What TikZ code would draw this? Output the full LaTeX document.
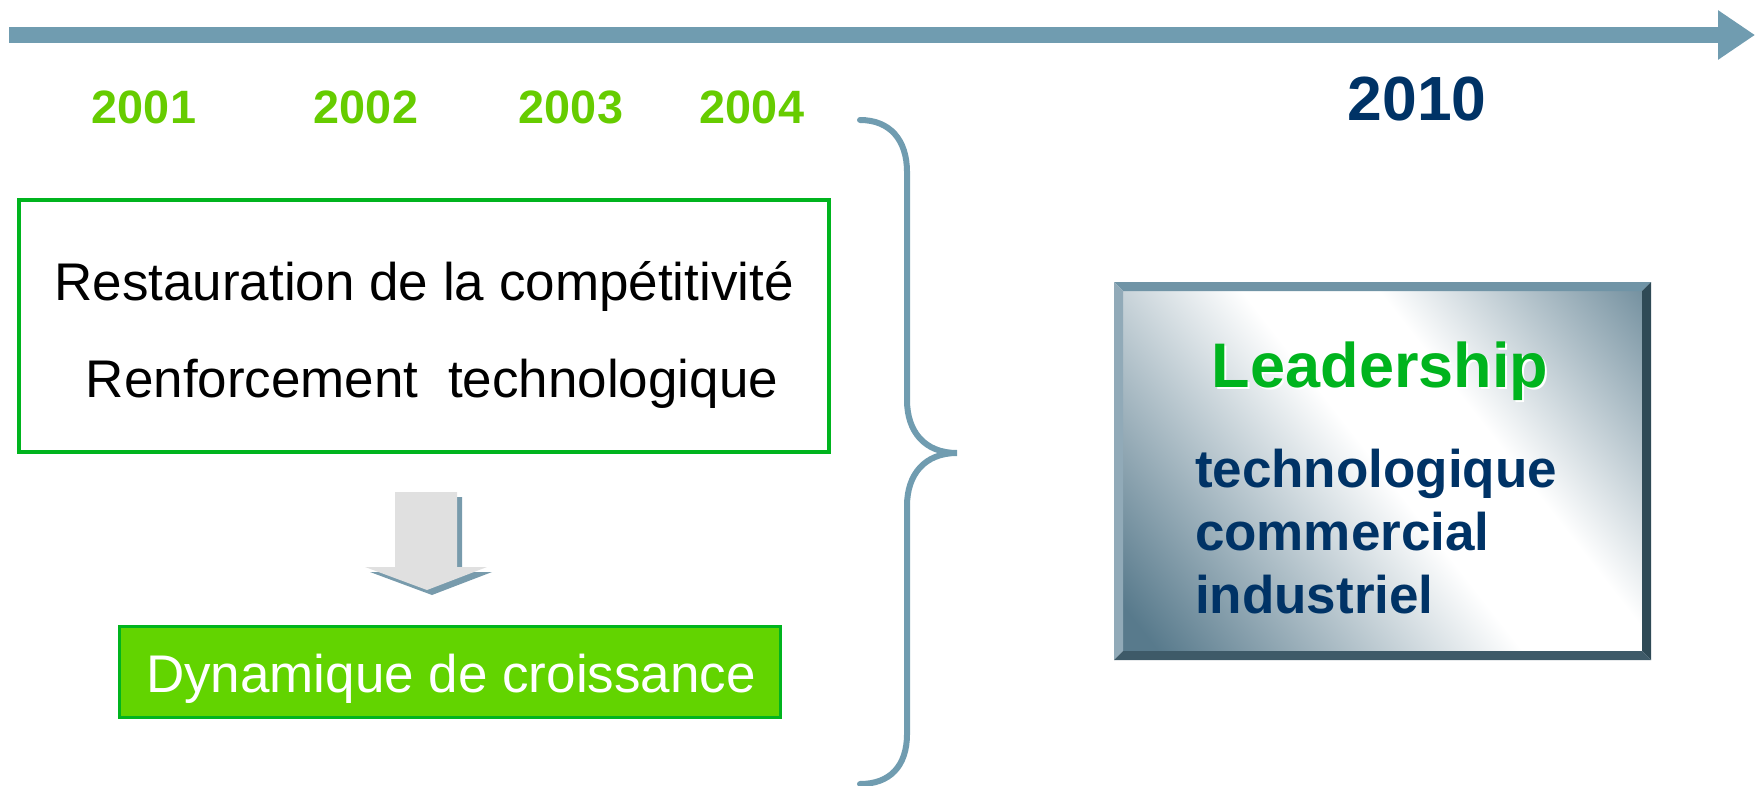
\documentclass[tikz,border=0pt]{standalone}
\usepackage{fontspec}
\setmainfont{Liberation Sans}
\usetikzlibrary{arrows.meta,calc}

\definecolor{steel}{RGB}{112,156,176}
\definecolor{yeargreen}{RGB}{102,204,0}
\definecolor{boxgreen}{RGB}{0,180,30}
\definecolor{fillgreen}{RGB}{98,212,0}
\definecolor{navy}{RGB}{0,51,102}
\definecolor{arrowgray}{RGB}{224,224,224}
\definecolor{shadowsteel}{RGB}{120,155,172}
\definecolor{leaddark}{RGB}{88,122,140}
\definecolor{bevtop}{RGB}{112,148,166}
\definecolor{bevleft}{RGB}{145,170,184}
\definecolor{bevright}{RGB}{47,74,86}
\definecolor{bevbottom}{RGB}{62,90,104}

\pgfdeclarehorizontalshading{steelglow}{100bp}{color(0bp)=(leaddark); color(18bp)=(leaddark); color(50bp)=(white); color(62bp)=(white); color(90bp)=(leaddark); color(100bp)=(leaddark)}

\begin{document}
\begin{tikzpicture}[x=0.5pt,y=-0.5pt,every node/.style={inner sep=0pt,outer sep=0pt}]

\useasboundingbox (0,0) rectangle (1755,786);

\tikzstyle{timeline}=[steel,line width=8pt,-{Triangle[length=18.5pt,width=23.5pt]}]
\tikzstyle{year}=[yeargreen,font=\bfseries\fontsize{23.4}{28}\selectfont,anchor=base]
\tikzstyle{plaintext}=[font=\fontsize{26.5}{31}\selectfont,anchor=base]
\tikzstyle{leadtext}=[navy,font=\bfseries\fontsize{26.5}{31}\selectfont,anchor=base west]

% time axis
\coordinate (tlstart) at (9,35);
\coordinate (tlend) at (1755,35);
\draw[timeline] (tlstart) -- (tlend);

\foreach \yr/\xx in {2001/144, 2002/366, 2003/571, 2004/752}
    \node[year] (y\yr) at (\xx,124) {\yr};
\node[year,navy,font=\bfseries\fontsize{31.2}{36}\selectfont] (y2010) at (1417,121) {2010};

% left part
\node (goals) at (424,326) [draw=boxgreen,line width=2pt,minimum width=405pt,minimum height=126pt] {};
\node[plaintext] (compet) at (424,300) {Restauration de la compétitivité};
\node[plaintext] (renfort) at (432,397) {Renforcement\ \ technologique};

% arrow with its shadow
\foreach \dd/\col in {5/shadowsteel, 0/arrowgray}
    \fill[\col,shift={(\dd,\dd)}] (395,492) -- (457,492) -- (457,567) -- (487,567) -- (427,590) -- (365,567) -- (395,567) -- cycle;

\node (dyn) at (449.5,671.5) [draw=boxgreen,fill=fillgreen,line width=1.5pt,minimum width=330.5pt,minimum height=45.5pt] {};
\node[plaintext,white] (dyntext) at (451,692) {Dynamique de croissance};

% brace
\draw[steel,line width=3pt,line cap=round] (860,120) .. controls (890,120) and (907,140) .. (907,172) -- (907,400)
    .. controls (907,432) and (925,453) .. (957,453)
    .. controls (925,453) and (907,474) .. (907,506) -- (907,734)
    .. controls (907,766) and (890,784) .. (860,784);

% right part
\node (lead) at (1382.5,471) [shade,shading=steelglow,shading angle=38,minimum width=259.5pt,minimum height=180pt] {};
\fill[bevtop] (lead.north west) -- (lead.north east) -- ++(9,-9) -- ($(lead.north west)+(-9,-9)$) -- cycle;
\fill[bevleft] (lead.north west) -- ($(lead.north west)+(-9,-9)$) -- ($(lead.south west)+(-9,9)$) -- (lead.south west) -- cycle;
\fill[bevright] (lead.north east) -- ++(9,-9) -- ($(lead.south east)+(9,9)$) -- (lead.south east) -- cycle;
\fill[bevbottom] (lead.south west) -- (lead.south east) -- ($(lead.south east)+(9,9)$) -- ($(lead.south west)+(-9,9)$) -- cycle;

\node[white,font=\bfseries\fontsize{31.5}{36}\selectfont,anchor=base] (leadshadow) at (1382,389) {Leadership};
\node[boxgreen,font=\bfseries\fontsize{31.5}{36}\selectfont,anchor=base] (leadtitle) at (1380,387) {Leadership};
\node[leadtext] (ltech) at (1195,487) {technologique};
\node[leadtext] (lcomm) at (1195,550) {commercial};
\node[leadtext] (lind) at (1195,613) {industriel};
\end{tikzpicture}
\end{document}
